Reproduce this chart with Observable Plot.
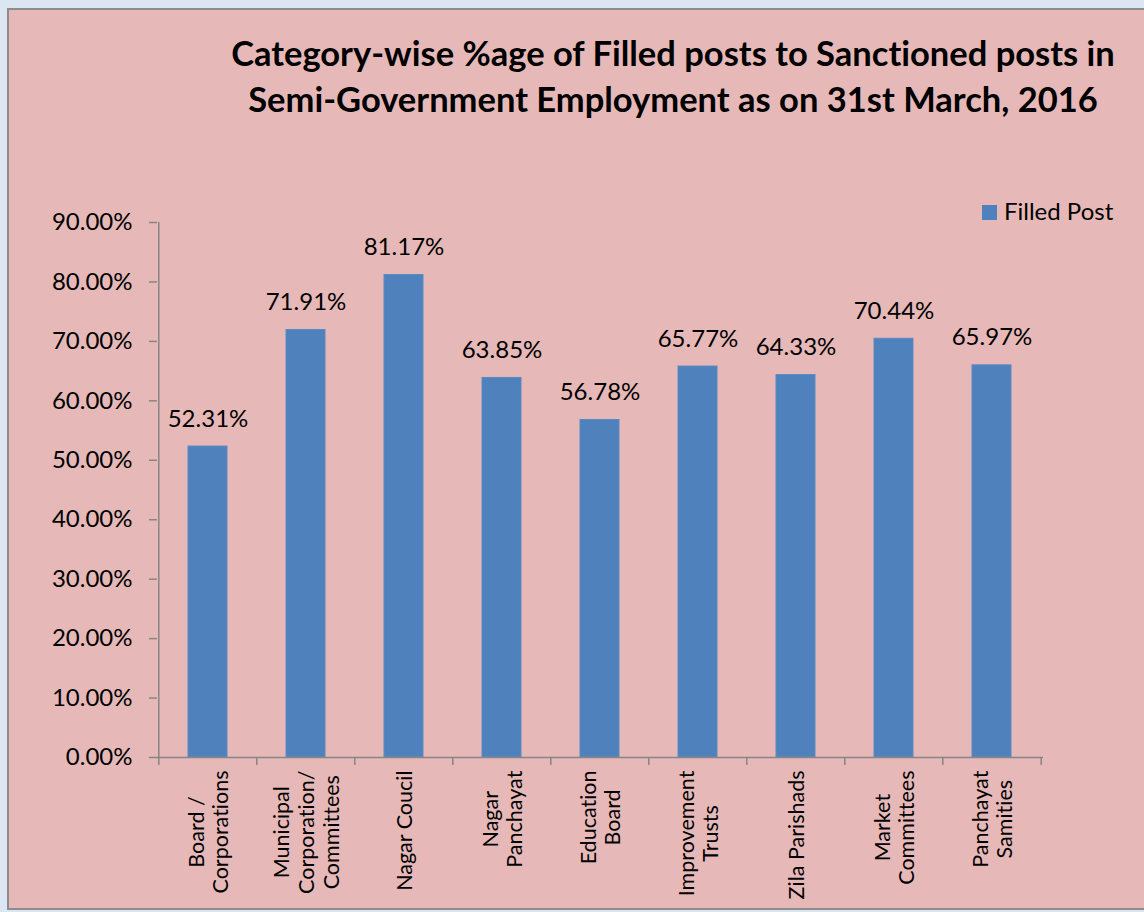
<!DOCTYPE html>
<html><head><meta charset="utf-8">
<script src="https://cdn.jsdelivr.net/npm/d3@7"></script>
<script src="https://cdn.jsdelivr.net/npm/@observablehq/plot@0.6"></script>
<style>
html,body{margin:0;padding:0;background:#DCE6F2;overflow:hidden;width:1144px;height:912px;}
#chart{position:absolute;left:7px;top:8px;width:1160px;height:902px;box-sizing:border-box;border:2px solid #8C8C8C;background:#E6B9B8;font-family:Lato,sans-serif;color:#000;font-variant-ligatures:none;}
#title{position:absolute;left:200px;width:928px;top:20px;text-align:center;font-weight:bold;font-size:34.5px;line-height:46px;}
#legsq{position:absolute;left:973px;top:195px;width:15px;height:15px;background:#4F81BD;}
#legtx{position:absolute;left:995px;top:189px;font-size:24px;line-height:24px;white-space:nowrap;}
#plot{position:absolute;left:0;top:0;}
svg text{font-variant-ligatures:none;}
</style></head>
<body>
<div id="chart">
  <div id="title">Category-wise %age of Filled posts to Sanctioned posts in<br>Semi-Government Employment as on 31st March, 2016</div>
  <div id="legsq"></div>
  <div id="legtx">Filled Post</div>
  <div id="plot"></div>
</div>
<script>
const categories = ["Board / Corporations","Municipal Corporation/ Committees","Nagar Coucil","Nagar Panchayat","Education Board","Improvement Trusts","Zila Parishads","Market Committees","Panchayat Samities"];
const categoryLines = ["Board /\nCorporations","Municipal\nCorporation/\nCommittees","Nagar Coucil","Nagar\nPanchayat","Education\nBoard","Improvement\nTrusts","Zila Parishads","Market\nCommittees","Panchayat\nSamities"];
const filledPost = [52.31, 71.91, 81.17, 63.85, 56.78, 65.77, 64.33, 70.44, 65.97];
const yTicks = [0,10,20,30,40,50,60,70,80,90];
const seriesName = "Filled Post";

const data = categories.map((c,i) => ({cat: c, label: categoryLines[i], value: filledPost[i]}));

const W = 1135, H = 896, ML = 148, MR = 101, MT = 212, MB = 149;
const step = (W - ML - MR) / categories.length;
const axisColor = "#868686";

const plot = Plot.plot({
  width: W, height: H,
  marginLeft: ML, marginRight: MR, marginTop: MT, marginBottom: MB,
  style: {background: "transparent", fontFamily: "Lato, sans-serif", color: "#000", overflow: "visible"},
  x: {domain: categories, paddingInner: 0.6, paddingOuter: 0.3, axis: null},
  y: {domain: [0, 90], axis: null},
  marks: [
    Plot.barY(data, {x: "cat", y: "value", fill: "#4F81BD", stroke: "#5B8AC2", strokeWidth: 1}),
    Plot.ruleY([0], {stroke: axisColor, strokeWidth: 1.5}),
    Plot.ruleX([categories[0]], {x: d => d, dx: -step/2, y1: 0, y2: 90, stroke: axisColor, strokeWidth: 1.5}),
    Plot.ruleX(categories, {x: d => d, dx: -step/2, y1: 0, y2: 0, insetBottom: -8, stroke: axisColor, strokeWidth: 1.5}),
    Plot.ruleX([categories[categories.length-1]], {x: d => d, dx: step/2, y1: 0, y2: 0, insetBottom: -8, stroke: axisColor, strokeWidth: 1.5}),
    Plot.axisY({ticks: yTicks, tickFormat: d => d.toFixed(2) + "%", tickSize: 8, tickPadding: 17, fontSize: 24, stroke: axisColor, strokeWidth: 1.5, label: null, color: "#000"}),
    Plot.text(data, {x: "cat", y: "value", text: d => d.value.toFixed(2) + "%", lineAnchor: "bottom", dy: -20, fontSize: 24, fill: "#000"}),
    Plot.text(data, {x: "cat", frameAnchor: "bottom", text: "label", rotate: -90, textAnchor: "middle", lineAnchor: "middle", lineHeight: 1.16, fontSize: 21.5, dy: 13, fill: "#000"})
  ]
});
document.getElementById("plot").appendChild(plot);
d3.select(plot).selectAll("text").each(function() {
  const t = this.getAttribute("transform") || "";
  if (!t.includes("rotate(-90)")) return;
  const w = this.getBBox().width;
  this.setAttribute("transform", t + ` translate(${-w/2},0)`);
});
</script>
</body></html>
